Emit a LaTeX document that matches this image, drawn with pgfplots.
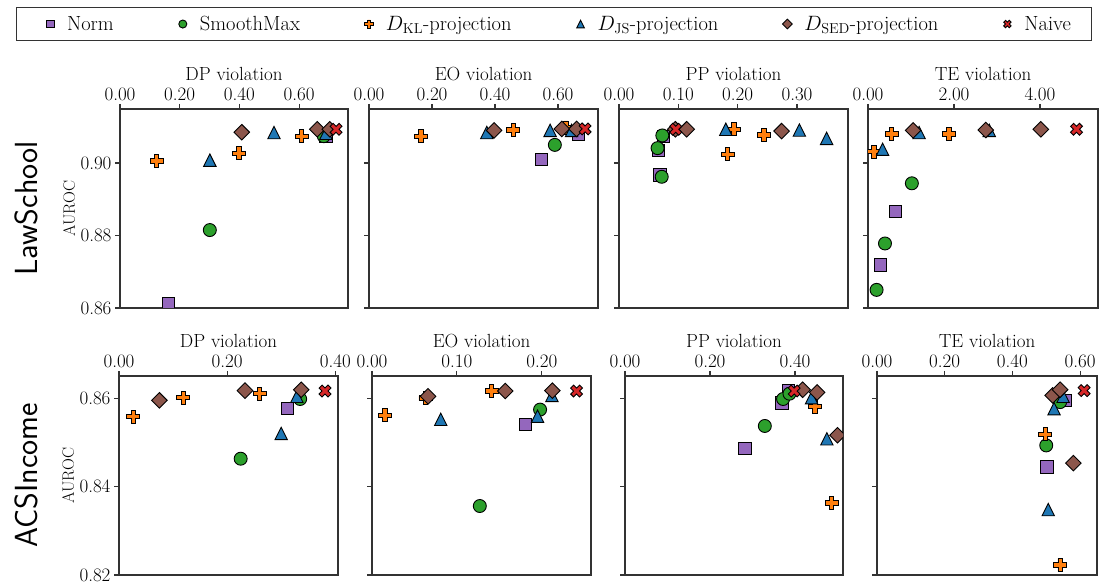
\documentclass[border=0pt]{standalone}
\usepackage{pgfplots}
\pgfplotsset{compat=1.18}
\definecolor{cnorm}{HTML}{9467BD}
\definecolor{csm}{HTML}{2CA02C}
\definecolor{ckl}{HTML}{FF7F0E}
\definecolor{cjs}{HTML}{1F77B4}
\definecolor{csed}{HTML}{8C564B}
\definecolor{cnaive}{HTML}{D62728}
\pgfdeclareplotmark{fplus}{%
  \pgfpathmoveto{\pgfqpoint{-\pgfplotmarksize}{-0.3333\pgfplotmarksize}}%
  \pgfpathlineto{\pgfqpoint{-0.3333\pgfplotmarksize}{-0.3333\pgfplotmarksize}}%
  \pgfpathlineto{\pgfqpoint{-0.3333\pgfplotmarksize}{-\pgfplotmarksize}}%
  \pgfpathlineto{\pgfqpoint{0.3333\pgfplotmarksize}{-\pgfplotmarksize}}%
  \pgfpathlineto{\pgfqpoint{0.3333\pgfplotmarksize}{-0.3333\pgfplotmarksize}}%
  \pgfpathlineto{\pgfqpoint{\pgfplotmarksize}{-0.3333\pgfplotmarksize}}%
  \pgfpathlineto{\pgfqpoint{\pgfplotmarksize}{0.3333\pgfplotmarksize}}%
  \pgfpathlineto{\pgfqpoint{0.3333\pgfplotmarksize}{0.3333\pgfplotmarksize}}%
  \pgfpathlineto{\pgfqpoint{0.3333\pgfplotmarksize}{\pgfplotmarksize}}%
  \pgfpathlineto{\pgfqpoint{-0.3333\pgfplotmarksize}{\pgfplotmarksize}}%
  \pgfpathlineto{\pgfqpoint{-0.3333\pgfplotmarksize}{0.3333\pgfplotmarksize}}%
  \pgfpathlineto{\pgfqpoint{-\pgfplotmarksize}{0.3333\pgfplotmarksize}}%
  \pgfpathclose
  \pgfusepathqfillstroke}
\pgfdeclareplotmark{fx}{%
  \pgftransformrotate{45}%
  \pgfuseplotmark{fplus}}
\pgfdeclareplotmark{mtri}{%
  \pgfpathmoveto{\pgfqpoint{0pt}{\pgfplotmarksize}}%
  \pgfpathlineto{\pgfqpoint{-\pgfplotmarksize}{-\pgfplotmarksize}}%
  \pgfpathlineto{\pgfqpoint{\pgfplotmarksize}{-\pgfplotmarksize}}%
  \pgfpathclose
  \pgfusepathqfillstroke}
\pgfdeclareplotmark{mdiam}{%
  \pgfpathmoveto{\pgfqpoint{0pt}{\pgfplotmarksize}}%
  \pgfpathlineto{\pgfqpoint{\pgfplotmarksize}{0pt}}%
  \pgfpathlineto{\pgfqpoint{0pt}{-\pgfplotmarksize}}%
  \pgfpathlineto{\pgfqpoint{-\pgfplotmarksize}{0pt}}%
  \pgfpathclose
  \pgfusepathqfillstroke}
\pgfplotsset{
  snorm/.style={only marks, mark=square*, mark size=6.2pt, mark options={fill=cnorm, draw=black, line width=0.9pt}},
  ssm/.style={only marks, mark=*, mark size=6.5pt, mark options={fill=csm, draw=black, line width=0.9pt}},
  skl/.style={only marks, mark=fplus, mark size=6.5pt, mark options={fill=ckl, draw=black, line width=0.9pt}},
  sjs/.style={only marks, mark=mtri, mark size=6.2pt, mark options={fill=cjs, draw=black, line width=0.9pt}},
  ssed/.style={only marks, mark=mdiam, mark size=7.8pt, mark options={fill=csed, draw=black, line width=0.9pt}},
  snaive/.style={only marks, mark=fx, mark size=6.3pt, mark options={fill=cnaive, draw=black, line width=0.9pt}},
  panel/.style={scale only axis, height=199pt, anchor=south west, clip marker paths=true,
    xtick pos=right, xticklabel pos=right, ytick pos=left, yticklabel pos=left,
    tick align=outside, major tick length=5pt,
    axis line style={black!80, line width=1.1pt}, tick style={black!80, line width=1.1pt},
    tick label style={font=\fontsize{19}{21}\selectfont},
    xlabel style={font=\fontsize{19}{21}\selectfont},
    xticklabel style={/pgf/number format/.cd, fixed, fixed zerofill, precision=2, assume math mode=true},
    yticklabel style={/pgf/number format/.cd, fixed, fixed zerofill, precision=2, assume math mode=true},
    scaled ticks=false, xmin=0},
  row1/.style={panel, ymin=0.86, ymax=0.9149, ytick={0.86,0.88,0.90}},
  row2/.style={panel, ymin=0.82, ymax=0.865, ytick={0.82,0.84,0.86}},
  ylab/.style={ylabel={\fontsize{16.5}{18}\selectfont AUROC}, ylabel style={inner sep=2pt}},
  noylab/.style={yticklabels={}},
}
\begin{document}
\begin{tikzpicture}
\useasboundingbox (0,0) rectangle (1099pt,583pt);
% ---------------- Row 1: LawSchool
\begin{axis}[row1, ylab, at={(120pt,275pt)}, width=228pt, xmax=0.764, xtick={0,0.2,0.4,0.6}, xlabel={DP violation},
  legend columns=6,
  legend style={at={(axis description cs:1.9035,1.427)}, anchor=center, draw=black!80, line width=1pt,
    font=\fontsize{20.5}{22}\selectfont, inner xsep=19pt, inner ysep=7pt,
    /tikz/every even column/.append style={column sep=52pt}},
  legend image code/.code={\path[draw=none] (0pt,-5pt) (30pt,5pt); \draw[#1,/tikz/every mark/.append style={scale=0.62}] plot coordinates {(15pt,0pt)};}]
\addplot[snorm] coordinates {(0.162,0.8613) (0.69,0.9075)};
\addlegendentry{Norm}
\addplot[ssm] coordinates {(0.301,0.8815) (0.683,0.9074)};
\addlegendentry{SmoothMax}
\addplot[skl] coordinates {(0.123,0.9006) (0.399,0.9027) (0.609,0.9074)};
\addlegendentry{$D_{\mathrm{KL}}$-projection}
\addplot[sjs] coordinates {(0.301,0.9008) (0.516,0.9084) (0.69,0.9082)};
\addlegendentry{$D_{\mathrm{JS}}$-projection}
\addplot[ssed] coordinates {(0.408,0.9085) (0.661,0.9093) (0.703,0.9093)};
\addlegendentry{$D_{\mathrm{SED}}$-projection}
\addplot[snaive] coordinates {(0.724,0.9093)};
\addlegendentry{Naive}
\end{axis}
\begin{axis}[row1, noylab, at={(369pt,275pt)}, width=229pt, xmax=0.727, xtick={0,0.2,0.4,0.6}, xlabel={EO violation}]
\addplot[snorm] coordinates {(0.548,0.901) (0.665,0.908)};
\addplot[ssm] coordinates {(0.59,0.905)};
\addplot[skl] coordinates {(0.165,0.9074) (0.458,0.9091) (0.625,0.9098)};
\addplot[sjs] coordinates {(0.374,0.9084) (0.575,0.909) (0.643,0.909)};
\addplot[ssed] coordinates {(0.397,0.909) (0.612,0.9094) (0.659,0.9094)};
\addplot[snaive] coordinates {(0.686,0.9094)};
\end{axis}
\begin{axis}[row1, noylab, at={(619pt,275pt)}, width=229pt, xmax=0.386, xtick={0,0.1,0.2,0.3}, xlabel={PP violation}]
\addplot[snorm] coordinates {(0.0747,0.9074) (0.066,0.9034) (0.069,0.8967)};
\addplot[ssm] coordinates {(0.073,0.9076) (0.065,0.9041) (0.072,0.8962)};
\addplot[skl] coordinates {(0.194,0.9093) (0.2445,0.9077) (0.183,0.9024)};
\addplot[sjs] coordinates {(0.180,0.9093) (0.304,0.9091) (0.350,0.9068)};
\addplot[ssed] coordinates {(0.095,0.9093) (0.114,0.9093) (0.274,0.9088)};
\addplot[snaive] coordinates {(0.0956,0.9093)};
\end{axis}
\begin{axis}[row1, noylab, at={(868pt,275pt)}, width=230pt, xmax=5.35, xtick={0,2,4}, xlabel={TE violation}]
\addplot[snorm] coordinates {(0.185,0.8597) (0.295,0.8719) (0.64,0.8866)};
\addplot[ssm] coordinates {(0.2,0.865) (0.395,0.8778) (1.02,0.8944)};
\addplot[skl] coordinates {(0.14,0.9031) (0.55,0.908) (1.88,0.908)};
\addplot[sjs] coordinates {(0.34,0.9038) (1.19,0.9084) (2.82,0.909)};
\addplot[ssed] coordinates {(1.05,0.909) (2.74,0.9091) (4.02,0.9093)};
\addplot[snaive] coordinates {(4.85,0.9093)};
\end{axis}
% ---------------- Row 2: ACSIncome
\begin{axis}[row2, ylab, at={(119pt,8pt)}, width=219pt, xmax=0.405, xtick={0,0.2,0.4}, xlabel={DP violation}]
\addplot[snorm] coordinates {(0.312,0.8576)};
\addplot[ssm] coordinates {(0.225,0.8463) (0.335,0.8598)};
\addplot[skl] coordinates {(0.0265,0.8558) (0.119,0.8601) (0.26,0.861)};
\addplot[sjs] coordinates {(0.30,0.852) (0.329,0.8604)};
\addplot[ssed] coordinates {(0.0747,0.8595) (0.233,0.8617) (0.337,0.8619)};
\addplot[snaive] coordinates {(0.381,0.8616)};
\end{axis}
\begin{axis}[row2, noylab, at={(372pt,8pt)}, width=219pt, xmax=0.258, xtick={0,0.1,0.2}, xlabel={EO violation}]
\addplot[snorm] coordinates {(0.181,0.8541)};
\addplot[ssm] coordinates {(0.127,0.8356) (0.198,0.8574)};
\addplot[skl] coordinates {(0.0153,0.8561) (0.063,0.86) (0.141,0.8616)};
\addplot[sjs] coordinates {(0.081,0.8552) (0.195,0.8559) (0.212,0.8606)};
\addplot[ssed] coordinates {(0.066,0.8604) (0.157,0.8616) (0.2125,0.8617)};
\addplot[snaive] coordinates {(0.241,0.8616)};
\end{axis}
\begin{axis}[row2, noylab, at={(625pt,8pt)}, width=218pt, xmax=0.513, xtick={0,0.2,0.4}, xlabel={PP violation}]
\addplot[snorm] coordinates {(0.282,0.8486) (0.369,0.8589) (0.384,0.8617)};
\addplot[ssm] coordinates {(0.329,0.8537) (0.372,0.8598) (0.387,0.861)};
\addplot[skl] coordinates {(0.447,0.8581) (0.486,0.8363)};
\addplot[sjs] coordinates {(0.439,0.8601) (0.475,0.8508)};
\addplot[ssed] coordinates {(0.418,0.8619) (0.452,0.8613) (0.5,0.8516)};
\addplot[snaive] coordinates {(0.398,0.8616)};
\end{axis}
\begin{axis}[row2, noylab, at={(877pt,8pt)}, width=220pt, xmax=0.65, xtick={0,0.2,0.4,0.6}, xlabel={TE violation}]
\addplot[snorm] coordinates {(0.556,0.8595) (0.502,0.8444)};
\addplot[ssm] coordinates {(0.541,0.8591) (0.5,0.8493)};
\addplot[skl] coordinates {(0.497,0.8518) (0.541,0.8223)};
\addplot[sjs] coordinates {(0.55,0.8604) (0.523,0.8576) (0.506,0.8348)};
\addplot[ssed] coordinates {(0.519,0.8606) (0.541,0.8619) (0.58,0.8453)};
\addplot[snaive] coordinates {(0.612,0.8617)};
\end{axis}
\node[rotate=90, font=\sffamily\fontsize{32}{36}\selectfont] at (26pt,374.5pt) {LawSchool};
\node[rotate=90, font=\sffamily\fontsize{32}{36}\selectfont] at (26pt,107.5pt) {ACSIncome};
\end{tikzpicture}
\end{document}
